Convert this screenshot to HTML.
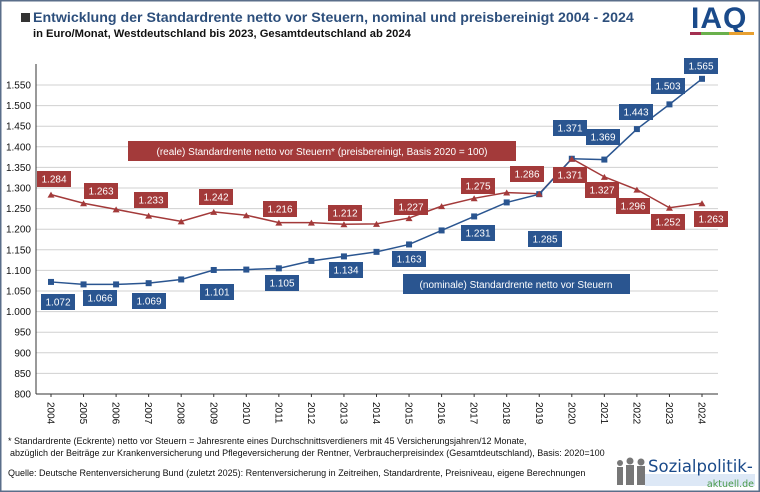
<!DOCTYPE html><html><head><meta charset="utf-8"><style>
body{margin:0;background:#fff}
svg{display:block;font-family:"Liberation Sans",Arial,sans-serif}
</style></head><body>
<svg width="760" height="492" viewBox="0 0 760 492" xmlns="http://www.w3.org/2000/svg">
<rect x="0.5" y="0.5" width="759" height="491" fill="#fff" stroke="#5a6e8a" stroke-width="2"/>
<rect x="21" y="13" width="9" height="9" fill="#333"/>
<text x="33" y="22" font-size="14.2" font-weight="bold" fill="#2d4f7c">Entwicklung der Standardrente netto vor Steuern, nominal und preisbereinigt 2004 - 2024</text>
<text x="33" y="37" font-size="11.2" font-weight="bold" fill="#111">in Euro/Monat, Westdeutschland bis 2023, Gesamtdeutschland ab 2024</text>
<text x="691" y="28" font-size="30" font-weight="bold" fill="#1a4a8a" letter-spacing="1">IAQ</text>
<rect x="690" y="32" width="11" height="3" fill="#a33050"/><rect x="701" y="32" width="28" height="3" fill="#6ab04c"/><rect x="729" y="32" width="25" height="3" fill="#e8a030"/>
<g id="grid" stroke="#d0d0d0" stroke-width="1"></g>
<g id="ylab" font-size="10" fill="#111" text-anchor="end"></g>
<line x1="36" y1="64" x2="36" y2="394" stroke="#333"/>
<line x1="36" y1="394" x2="718" y2="394" stroke="#333"/>
<g id="xlab" font-size="10" fill="#111"></g>
<polyline id="pr" fill="none" stroke="#a33a3a" stroke-width="1.5"/>
<polyline id="pb" fill="none" stroke="#2a5590" stroke-width="1.5"/>
<g id="mk"></g>
<g id="lb" font-size="10" fill="#fff" text-anchor="middle"></g>
<rect x="128" y="141" width="388" height="20" fill="#a33a3a"/>
<text x="322" y="155" font-size="10" fill="#fff" text-anchor="middle">(reale) Standardrente  netto vor Steuern* (preisbereinigt, Basis 2020 = 100)</text>
<rect x="403" y="274" width="227" height="20" fill="#2a5590"/>
<text x="516" y="288" font-size="10" fill="#fff" text-anchor="middle">(nominale) Standardrente netto vor Steuern</text>
<text x="8" y="444" font-size="9" fill="#111">* Standardrente (Eckrente) netto vor Steuern = Jahresrente eines Durchschnittsverdieners mit 45 Versicherungsjahren/12 Monate,</text>
<text x="10" y="456" font-size="9" fill="#111">abzüglich der Beiträge zur Krankenversicherung und Pflegeversicherung der Rentner, Verbraucherpreisindex (Gesamtdeutschland), Basis: 2020=100</text>
<text x="8" y="476" font-size="9" fill="#111">Quelle: Deutsche Rentenversicherung Bund (zuletzt 2025): Rentenversicherung in Zeitreihen, Standardrente, Preisniveau, eigene Berechnungen</text>
<g fill="#777"><circle cx="620" cy="463" r="3"/><rect x="617" y="467" width="6" height="18"/><circle cx="630" cy="461" r="3.5"/><rect x="626" y="465" width="8" height="20"/><circle cx="641" cy="462" r="3.5"/><rect x="637" y="466" width="8" height="19"/></g>
<rect x="645" y="474" width="110" height="12" fill="#dde8f6"/>
<text x="648" y="472" font-size="16.5" fill="#1a4a8a" font-family="DejaVu Sans,sans-serif">Sozialpolitik-</text>
<text x="754" y="487" font-size="9.5" fill="#4a9a4a" text-anchor="end" font-family="DejaVu Sans,sans-serif">aktuell.de</text>
</svg>
<script>
const ns="http://www.w3.org/2000/svg";
const Y=v=>394-(v-800)*0.412, X=i=>51+i*32.55;
function el(p,t,a,txt){const e=document.createElementNS(ns,t);for(const k in a)e.setAttribute(k,a[k]);if(txt!=null)e.textContent=txt;document.getElementById(p).appendChild(e);return e;}
for(let v=850;v<=1550;v+=50)el("grid","line",{x1:36,x2:718,y1:Y(v),y2:Y(v)});
for(let v=800;v<=1550;v+=50)el("ylab","text",{x:31,y:Y(v)+3.5},v<1000?String(v):(v/1000).toFixed(3));
for(let i=0;i<21;i++){el("grid","line",{x1:X(i),x2:X(i),y1:394,y2:397,stroke:"#333"});
 el("xlab","text",{x:0,y:0,transform:`translate(${X(i)-3.5},402) rotate(90)`},2004+i);}
const nom=[1072,1066,1066,1069,1078,1101,1102,1105,1123,1134,1145,1163,1197,1231,1265,1285,1371,1369,1443,1503,1565];
const real=[1284,1263,1248,1233,1219,1242,1234,1216,1216,1212,1213,1227,1256,1275,1289,1286,1371,1327,1296,1252,1263];
document.getElementById("pb").setAttribute("points",nom.map((v,i)=>X(i)+","+Y(v)).join(" "));
document.getElementById("pr").setAttribute("points",real.map((v,i)=>X(i)+","+Y(v)).join(" "));
nom.forEach((v,i)=>el("mk","rect",{x:X(i)-3,y:Y(v)-3,width:6,height:6,fill:"#2a5590"}));
real.forEach((v,i)=>el("mk","path",{d:`M${X(i)-3.5} ${Y(v)+3}L${X(i)} ${Y(v)-3}L${X(i)+3.5} ${Y(v)+3}Z`,fill:"#a33a3a"}));
const bl=[["1.072",58,302],["1.066",100,298],["1.069",149,301],["1.101",217,292],["1.105",282,283],["1.134",346,270],["1.163",409,259],["1.231",478,233],["1.285",545,239],["1.371",570,128],["1.369",603,137],["1.443",636,112],["1.503",668,86],["1.565",701,66]];
const rl=[["1.284",54,179],["1.263",101,191],["1.233",151,200],["1.242",216,197],["1.216",280,209],["1.212",345,213],["1.227",411,207],["1.275",478,186],["1.286",527,174],["1.371",570,175],["1.327",602,190],["1.296",633,206],["1.252",668,222],["1.263",711,219]];
function lab(a,c){a.forEach(([t,x,y])=>{el("lb","rect",{x:x-17,y:y-8,width:34,height:16,fill:c});el("lb","text",{x:x,y:y+3.5},t);});}
lab(bl,"#2a5590");lab(rl,"#a33a3a");
</script>
</body></html>
